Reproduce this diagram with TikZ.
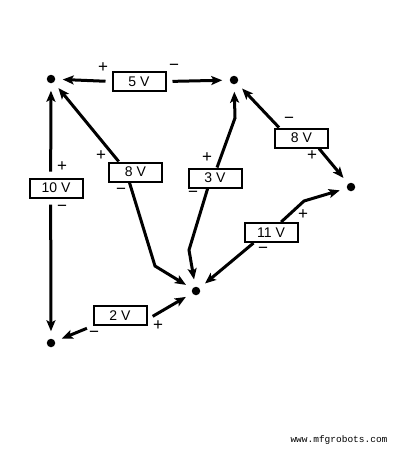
\documentclass[tikz,border=0pt]{standalone}
\usepackage{fontspec}
\setmainfont{Liberation Sans}
\setmonofont{Liberation Mono}
\usetikzlibrary{arrows.meta}

\begin{document}
\begin{tikzpicture}[x = 1pt, y = -1pt, line width = 3pt,
                        dot/.style = {circle, fill = black, inner sep = 0pt, minimum size = 8.5pt},
                        volt/.style = {draw, fill = white, line width = 2pt, inner sep = 0pt,
                                       minimum width = 53pt, minimum height = 19pt,
                                       font = \fontsize{14}{16}\selectfont},
                        sign/.style = {inner sep = 0pt, font = \fontsize{17}{19}\selectfont},
                        wire/.style = {-{Stealth[length = 11pt, width = 9pt, inset = 2.5pt]},
                                       shorten > = 6pt}]
      \useasboundingbox (0, 0) rectangle (411, 451);
      % junctions
      \node [dot] (a) at (51, 79){};
      \node [dot] (b) at (234, 80){};
      \node [dot] (c) at (351, 187){};
      \node [dot] (d) at (196, 291){};
      \node [dot] (e) at (51, 343){};
      % voltage boxes
      \node [volt] (v5) at (139, 81.5){5 V};
      \node [volt] (v10) at (56, 188){10 V};
      \node [volt] (v8a) at (135.5, 172){8 V};
      \node [volt] (v3) at (215, 178){3 V};
      \node [volt] (v8b) at (301.5, 138){8 V};
      \node [volt] (v11) at (271, 232.5){11 V};
      \node [volt] (v2) at (120, 315.5){2 V};
      % bends
      \coordinate (k1) at (155, 266);
      \coordinate (k2) at (235, 118);
      \coordinate (k3) at (189, 250);
      \coordinate (k4) at (304, 201);
      % wires
      \draw [wire, shorten < = 6pt] (v5.west) -- (a);
      \draw [wire, shorten < = 6pt] (v5.east) -- (b);
      \draw [wire, shorten < = 6pt] (v10.117) -- (a);
      \draw [wire, shorten < = 6pt] (v10.243) -- (e);
      \draw [wire] (v8a.148) -- (a);
      \draw [wire] (v8a.240) -- (k1) -- (d);
      \draw [wire] (v3.79) -- (k2) -- (b);
      \draw [wire] (v3.235) -- (k3) -- (d);
      \draw [wire] (v8b.155) -- (b);
      \draw [wire] (v8b.329) -- (c);
      \draw [wire] (v11.46) -- (k4) -- (c);
      \draw [wire] (v11.211) -- (d);
      \draw [wire, shorten < = 6pt] (v2.-8) -- (d);
      \draw [wire, shorten < = 6pt] (v2.south west) -- (e);
      % polarity marks
      \node [sign] (p5) at (103, 68){+};
      \node [sign] (m5) at (174, 67){−};
      \node [sign] (p10) at (62, 167){+};
      \node [sign] (m10) at (62, 208){−};
      \node [sign] (p8a) at (101, 156){+};
      \node [sign] (m8a) at (121, 191){−};
      \node [sign] (p3) at (207, 158){+};
      \node [sign] (m3) at (193, 194){−};
      \node [sign] (m8b) at (289, 120){−};
      \node [sign] (p8b) at (312, 156){+};
      \node [sign] (p11) at (303, 215){+};
      \node [sign] (m11) at (263, 250){−};
      \node [sign] (m2) at (94, 334){−};
      \node [sign] (p2) at (158, 326){+};
      \node [inner sep = 0pt, font = \ttfamily\fontsize{9.5}{11}\selectfont] (site) at (339, 440){www.mfgrobots.com};
    \end{tikzpicture}
\end{document}
